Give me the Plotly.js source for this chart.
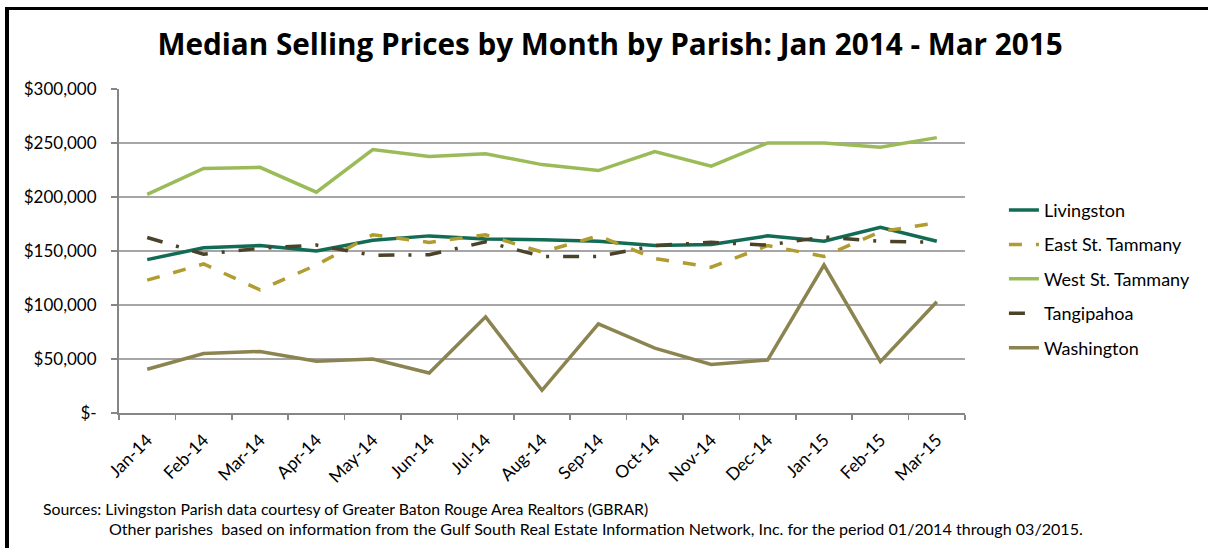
<!DOCTYPE html>
<html>
<head>
<meta charset="utf-8">
<script src="https://cdn.plot.ly/plotly-3.0.1.min.js"></script>
<style>
  html, body { margin: 0; padding: 0; background: #fff; overflow: hidden; }
  #chart { position: absolute; left: 0; top: 0; width: 1208px; height: 548px; }
  #frame { position: absolute; left: 5px; top: 7px; width: 1220px; height: 600px;
           border-left: 4px solid #000; border-top: 3px solid #000; pointer-events: none; }
</style>
</head>
<body>
<div id="chart"></div>
<div id="frame"></div>
<script>
const months = ['Jan-14','Feb-14','Mar-14','Apr-14','May-14','Jun-14','Jul-14','Aug-14','Sep-14','Oct-14','Nov-14','Dec-14','Jan-15','Feb-15','Mar-15'];
const livingston    = [142000,153000,155000,150000,160000,164000,161000,160500,159000,155000,156000,164000,159000,172000,159000];
const eastStTammany = [123000,138000,114000,137000,165000,158000,165000,149000,164000,143000,135000,155000,145000,168000,176000];
const westStTammany = [202500,226500,227500,204500,244000,237500,240000,230000,224500,242000,228500,250000,250000,246000,255000];
const tangipahoa    = [162500,147000,152500,155500,146000,146500,158500,145000,145000,155000,158000,155500,163000,159000,158000];
const washington    = [40500,55000,57000,48000,50000,37000,89000,21000,82500,60000,45000,49000,137000,47500,103000];
const yTickVals  = [0,50000,100000,150000,200000,250000,300000];
const yTickText  = ['$-','$50,000','$100,000','$150,000','$200,000','$250,000','$300,000'];
const seriesNames = ['Livingston','East St. Tammany','West St. Tammany','Tangipahoa','Washington'];

const FONT = 'Lato, "Open Sans", sans-serif';
const lw = 3.5;
const traces = [
  {y: livingston,    name: seriesNames[0], line: {color: '#126B55', width: lw}},
  {y: eastStTammany, name: seriesNames[1], line: {color: '#B09C30', width: lw, dash: '13px,14px'}},
  {y: westStTammany, name: seriesNames[2], line: {color: '#9BBB59', width: lw}},
  {y: tangipahoa,    name: seriesNames[3], line: {color: '#4A4229', width: lw, dash: '16px,14px,3px,14px'}},
  {y: washington,    name: seriesNames[4], line: {color: '#8C8450', width: lw}}
].map((t, i) => Object.assign({x: months, type: 'scatter', mode: 'lines', legendgroup: 'g' + i}, t));

const layout = {
  width: 1208, height: 548,
  margin: {l: 119, r: 239, t: 89, b: 135},
  paper_bgcolor: '#fff', plot_bgcolor: '#fff',
  font: {family: FONT, color: '#000'},
  title: {text: '<b>Median Selling Prices by Month by Parish: Jan 2014 - Mar 2015</b>',
          font: {family: '"Open Sans", Lato, sans-serif', size: 29.7, color: '#000'},
          x: 0.505, xanchor: 'center', yref: 'container', y: 1 - 45/548, yanchor: 'middle'},
  xaxis: {type: 'category', range: [-0.5, 14.5], tickson: 'boundaries', ticks: 'outside',
          ticklen: 5, tickcolor: '#868686', tickwidth: 1.5, showline: true, linecolor: '#868686',
          linewidth: 2, showgrid: false, tickangle: -45, ticklabelstandoff: 8,
          tickfont: {family: FONT, size: 17.5, color: '#000'}},
  yaxis: {range: [0, 300000], tickvals: yTickVals, ticktext: yTickText, ticks: 'outside',
          ticklen: 6, tickcolor: '#868686', tickwidth: 1.5, showline: true, linecolor: '#868686',
          linewidth: 2, showgrid: true, gridcolor: '#A6A6A6', gridwidth: 1.3, zeroline: false,
          ticklabelstandoff: 11, tickfont: {family: FONT, size: 17, color: '#000'}},
  showlegend: true,
  legend: {x: 1.046, xanchor: 'left', y: 0.414, yanchor: 'middle', traceorder: 'grouped',
           tracegroupgap: 8, font: {family: FONT, size: 18, color: '#000'}, bgcolor: 'rgba(0,0,0,0)'},
  annotations: [
    {xref: 'paper', yref: 'paper', x: (41 - 119)/850, y: 1 - (508 - 89)/324, xanchor: 'left', yanchor: 'middle',
     showarrow: false, align: 'left', font: {family: FONT, size: 15.8, color: '#000'},
     text: 'Sources: Livingston Parish data courtesy of Greater Baton Rouge Area Realtors (GBRAR)'},
    {xref: 'paper', yref: 'paper', x: (107 - 119)/850, y: 1 - (528 - 89)/324, xanchor: 'left', yanchor: 'middle',
     showarrow: false, align: 'left', font: {family: FONT, size: 16.1, color: '#000'},
     text: 'Other parishes  based on information from the Gulf South Real Estate Information Network, Inc. for the period 01/2014 through 03/2015.'}
  ]
};

Plotly.newPlot('chart', traces, layout, {displayModeBar: false, staticPlot: true});
</script>
</body>
</html>
